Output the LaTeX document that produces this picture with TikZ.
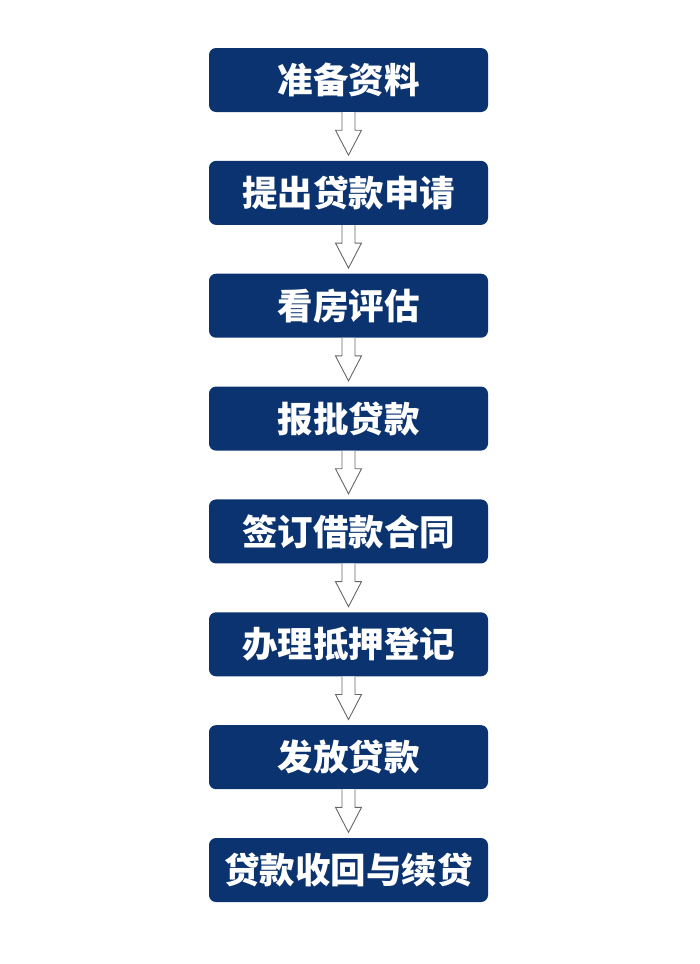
\documentclass[tikz,border=0pt]{standalone}
\usepackage{fontspec}
\newfontfamily\cjk{Noto Sans CJK SC}[BoldFont={Noto Sans CJK SC Black}]
\usetikzlibrary{positioning,calc}
\definecolor{navy}{RGB}{11,51,112}

\tikzset{
    stepbox/.style={draw=none, fill=navy, rounded corners=7pt, minimum width=279pt,
        minimum height=64pt, inner sep=0pt, text=white, font=\cjk\bfseries\fontsize{35.5}{36}\selectfont},
    hollowarrow/.style={draw=black!60, fill=white, line width=0.9pt, line join=miter}
}

\begin{document}
\begin{tikzpicture}[x=1pt, y=-1pt]
    \useasboundingbox (0,0) rectangle (700,964);

    % Steps of the loan process
    \foreach \txt [count=\i from 0] in {准备资料,提出贷款申请,看房评估,报批贷款,签订借款合同,办理抵押登记,发放贷款,贷款收回与续贷} {
        \node[stepbox] (s\i) at (348.5, 80+112.86*\i) {\txt};
    }

    % Hollow arrows between steps
    \foreach \i in {0,...,6} {
        \draw[hollowarrow] ($(s\i.south)+(-6.5,0)$) -- ++(0,18) -- ++(-6.5,0)
            -- ($(s\i.south)+(0,43)$) -- ($(s\i.south)+(13,18)$) -- ++(-6.5,0)
            -- ($(s\i.south)+(6.5,0)$);
    }
\end{tikzpicture}
\end{document}
